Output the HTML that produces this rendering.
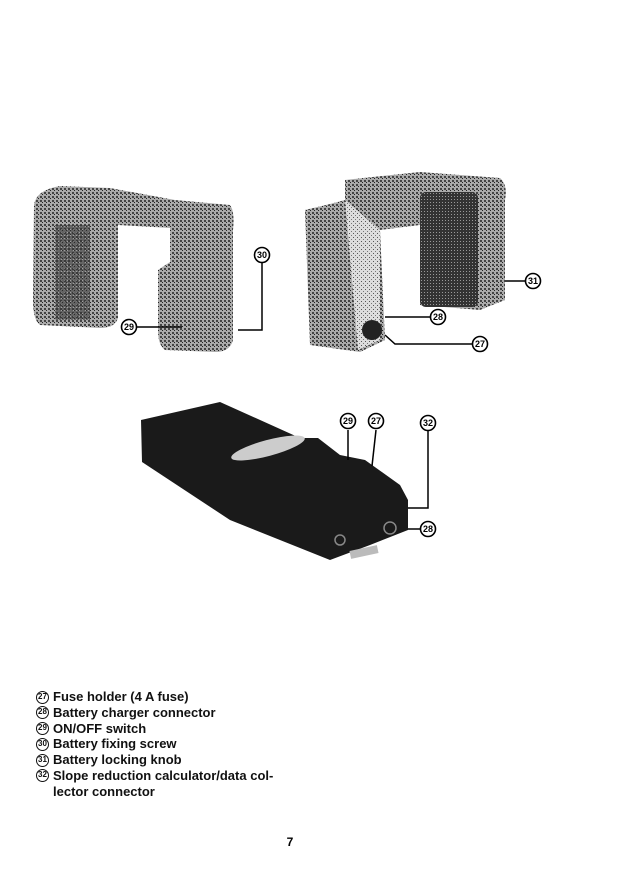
<!DOCTYPE html>
<html><head><meta charset="utf-8"><style>
html,body{margin:0;padding:0;background:#fff;}
body{width:638px;height:879px;position:relative;overflow:hidden;font-family:"Liberation Sans",sans-serif;}
svg{position:absolute;left:0;top:0;}
.list{position:absolute;left:36px;top:689px;font-size:13px;color:#111;font-weight:bold;}
.list div{height:15.8px;line-height:15.8px;white-space:nowrap;position:relative;padding-left:17px;}
.list span.n{position:absolute;left:0;top:1.5px;width:13px;height:13px;border:1.5px solid #111;border-radius:50%;font-size:8px;text-align:center;line-height:10px;box-sizing:border-box;}
</style></head><body>
<svg width="638" height="879" viewBox="0 0 638 879">
<defs>
<pattern id="g1" width="4" height="4" patternUnits="userSpaceOnUse"><rect width="4" height="4" fill="#aaa"/><rect x="0" y="0" width="2" height="2" fill="#444"/><rect x="2" y="2" width="1" height="1" fill="#222"/></pattern>
<pattern id="g2" width="4" height="4" patternUnits="userSpaceOnUse"><rect width="4" height="4" fill="#ddd"/><rect x="1" y="1" width="1" height="1" fill="#555"/><rect x="3" y="3" width="1" height="1" fill="#777"/></pattern>
<pattern id="g3" width="3" height="3" patternUnits="userSpaceOnUse"><rect width="3" height="3" fill="#333"/><rect x="1" y="1" width="1" height="1" fill="#999"/></pattern>
</defs>
<path d="M34,205 Q36,190 60,186 L110,188 L175,200 L230,205 Q235,212 233,230 L233,340 Q230,352 215,352 L165,350 Q158,345 158,330 L158,270 L170,262 L170,228 L118,225 L118,318 Q115,328 100,328 L40,325 Q33,320 33,300 Z" fill="url(#g1)"/>
<rect x="55" y="225" width="35" height="95" fill="url(#g3)" opacity="0.6"/>
<path d="M305,210 L330,204 L345,200 L345,180 L420,172 L500,178 Q508,185 505,200 L505,300 L480,310 L420,305 L420,225 L380,230 L385,340 L360,352 L310,345 Z" fill="url(#g1)"/>
<path d="M345,200 L380,230 L380,340 L358,350 Z" fill="url(#g2)"/>
<rect x="420" y="192" width="58" height="115" rx="6" fill="url(#g3)"/>
<circle cx="372" cy="330" r="10" fill="#222"/>
<path d="M141,420 L220,402 L300,438 L318,438 L340,455 L365,460 L400,485 L408,500 L408,530 L370,545 L330,560 L300,548 L230,520 L142,462 Z" fill="#1a1a1a"/>
<ellipse cx="268" cy="448" rx="38" ry="8" fill="#ccc" transform="rotate(-15 268 448)"/>
<rect x="350" y="548" width="28" height="8" fill="#bbb" transform="rotate(-12 364 552)"/>
<circle cx="390" cy="528" r="6" fill="none" stroke="#888" stroke-width="1.5"/>
<circle cx="340" cy="540" r="5" fill="none" stroke="#888" stroke-width="1.5"/>
<g stroke="#000" stroke-width="1.5" fill="none">
<path d="M262,263 L262,330 L238,330"/>
<path d="M133,327 L182,327"/>
<path d="M525,281 L505,281"/>
<path d="M430,317 L385,317"/>
<path d="M472,344 L395,344 L385,335"/>
<path d="M348,430 L348,460"/>
<path d="M376,430 L372,466"/>
<path d="M428,431 L428,508 L408,508"/>
<path d="M420,529 L408,529"/>
</g>
<g font-family="Liberation Sans,sans-serif" font-size="9" font-weight="bold" text-anchor="middle">
<g fill="#fff" stroke="#000" stroke-width="1.6">
<circle cx="262" cy="255" r="7.5"/><circle cx="129" cy="327" r="7.5"/>
<circle cx="533" cy="281" r="7.5"/><circle cx="438" cy="317" r="7.5"/><circle cx="480" cy="344" r="7.5"/>
<circle cx="348" cy="421" r="7.5"/><circle cx="376" cy="421" r="7.5"/><circle cx="428" cy="423" r="7.5"/><circle cx="428" cy="529" r="7.5"/>
</g>
<text x="262" y="258">30</text><text x="129" y="330">29</text>
<text x="533" y="284">31</text><text x="438" y="320">28</text><text x="480" y="347">27</text>
<text x="348" y="424">29</text><text x="376" y="424">27</text><text x="428" y="426">32</text><text x="428" y="532">28</text>
</g>
<text x="290" y="846" font-family="Liberation Sans,sans-serif" font-size="12" font-weight="bold" text-anchor="middle">7</text>
</svg>
<div class="list">
<div><span class="n">27</span>Fuse holder (4 A fuse)</div>
<div><span class="n">28</span>Battery charger connector</div>
<div><span class="n">29</span>ON/OFF switch</div>
<div><span class="n">30</span>Battery fixing screw</div>
<div><span class="n">31</span>Battery locking knob</div>
<div><span class="n">32</span>Slope reduction calculator/data col-</div>
<div>lector connector</div>
</div>
</body></html>
